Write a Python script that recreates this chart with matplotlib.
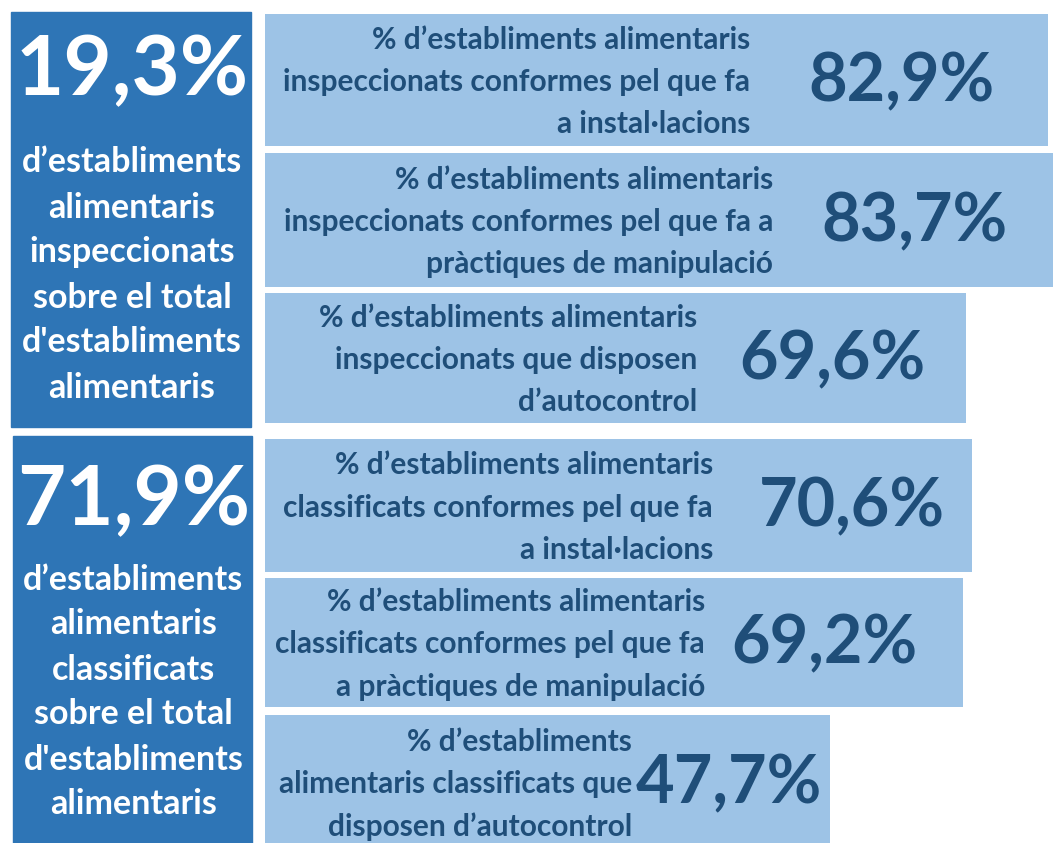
import matplotlib.pyplot as plt
from matplotlib.patches import Rectangle

# summary boxes (left)
summary_values = ['19,3%', '71,9%']
summary_labels = [
    "d’establiments\nalimentaris\ninspeccionats\nsobre el total\nd'establiments\nalimentaris",
    "d’establiments\nalimentaris\nclassificats\nsobre el total\nd'establiments\nalimentaris",
]

# detail bars (right)
bar_values = [82.9, 83.7, 69.6, 70.6, 69.2, 47.7]
bar_labels = [
    "% d’establiments alimentaris\ninspeccionats conformes pel que fa\na instal·lacions",
    "% d’establiments alimentaris\ninspeccionats conformes pel que fa a\npràctiques de manipulació",
    "% d’establiments alimentaris\ninspeccionats que disposen\nd’autocontrol",
    "% d’establiments alimentaris\nclassificats conformes pel que fa\na instal·lacions",
    "% d’establiments alimentaris\nclassificats conformes pel que fa\na pràctiques de manipulació",
    "% d’establiments\nalimentaris classificats que\ndisposen d’autocontrol",
]

W, H = 1055, 843
DARK = '#2E75B6'
LIGHT = '#9DC3E6'
NAVY = '#1F4E79'
FONT = 'Lato'

fig = plt.figure(figsize=(W / 100, H / 100), dpi=100)

# bar axis: value scale, bar starts at pixel 265
axb = fig.add_axes([0, 0, 1, 1])
px_per_unit = 6.2
zero_px = 534
base = (265 - zero_px) / px_per_unit
axb.set_xlim(-zero_px / px_per_unit, (W - zero_px) / px_per_unit)
axb.set_ylim(H, 0)
axb.axis('off')

tops = [14, 153, 293, 439, 578, 715]
bottoms = [146, 287, 423, 572, 707, 850]
centers = [(t + b) / 2 for t, b in zip(tops, bottoms)]
heights = [b - t for t, b in zip(tops, bottoms)]
axb.barh(centers, [v - base for v in bar_values], left=base, height=heights,
         color=LIGHT, edgecolor='none')

# overlay axis in pixel coords for boxes and text
ax = fig.add_axes([0, 0, 1, 1])
ax.set_xlim(0, W)
ax.set_ylim(H, 0)
ax.axis('off')
ax.patch.set_alpha(0)

boxes = [(11, 12, 251, 427), (13, 436, 252, 850)]
num_y = [72, 502]
lab_y = [275, 692]
for (x0, y0, x1, y1), val, lab, ny, ly in zip(boxes, summary_values, summary_labels, num_y, lab_y):
    ax.add_patch(Rectangle((x0, y0), x1 - x0, y1 - y0, color=DARK))
    cx = (x0 + x1) / 2 + 1
    ax.text(cx, ny, val, color='white', fontsize=60, fontweight='bold',
            family=FONT, ha='center', va='center')
    ax.text(cx, ly, lab, color='white', fontsize=24.5, fontweight='bold',
            family=FONT, ha='center', va='center', linespacing=1.5)

num_x = [995, 1008, 925, 945, 918, 822]
desc_x = [750, 773, 697, 713, 705, 632]
for c, v, lab, nx, dx in zip(centers, bar_values, bar_labels, num_x, desc_x):
    txt = f"{v:.1f}".replace('.', ',') + '%'
    ax.text(nx, c + 2, txt, color=NAVY, fontsize=48, fontweight='bold',
            family=FONT, ha='right', va='center')
    ax.text(dx, c + 2, lab, color=NAVY, fontsize=21.5, fontweight='bold',
            family=FONT, ha='right', va='center', multialignment='right',
            linespacing=1.62)

fig.savefig('out.png', dpi=100)
